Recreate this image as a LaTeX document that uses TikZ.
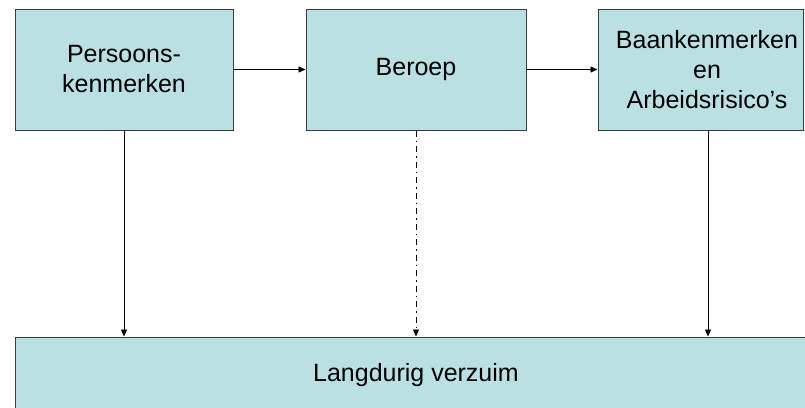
\documentclass[tikz,border=0pt]{standalone}
\usepackage{fontspec}
\setmainfont{Liberation Sans}
\usetikzlibrary{arrows.meta}
\definecolor{boxfill}{RGB}{187,224,227}
\definecolor{boxline}{RGB}{60,60,60}
\begin{document}
\begin{tikzpicture}[x=1pt,y=-1pt,
  box/.style={draw=boxline,line width=1pt,fill=boxfill,inner sep=0pt,
    minimum height=121pt,align=center},
  lbl/.style={inner sep=0pt,align=center,font=\fontsize{25}{30}\selectfont},
  conn/.style={line width=0.9pt,-{Triangle[length=7pt,width=6pt]}},
  dashdot/.style={dash pattern=on 6pt off 4pt on 1.5pt off 4pt}]
\useasboundingbox (0,0) rectangle (805,407);
\clip (0,0) rectangle (805,407);
\node[box,minimum width=218pt] (b1) at (124,69.5) {};
\node[lbl] (t1) at (b1.center) {Persoons-\\kenmerken};
\node[box,minimum width=220pt] (b2) at (416,69.5) {};
\node[lbl] (t2) at (b2.center) {Beroep};
\node[box,minimum width=205pt] (b3) at (700.5,69.5) {};
\node[lbl] (t3) at (707,69.5) {Baankenmerken\\en\\Arbeidsrisico’s};
\node[box,minimum width=802pt,minimum height=76pt] (b4) at (416,375) {};
\node[lbl] (t4) at (b4.center) {Langdurig verzuim};
\draw[conn] (b1.east) -- (b2.west);
\draw[conn] (b2.east) -- (b3.west);
\draw[conn] (b1.south) -- (b1.south |- b4.north);
\draw[conn,dashdot] (b2.south) -- (b2.south |- b4.north);
\coordinate (s3) at ([xshift=7.5pt]b3.south);
\draw[conn] (s3) -- (s3 |- b4.north);
\end{tikzpicture}
\end{document}
